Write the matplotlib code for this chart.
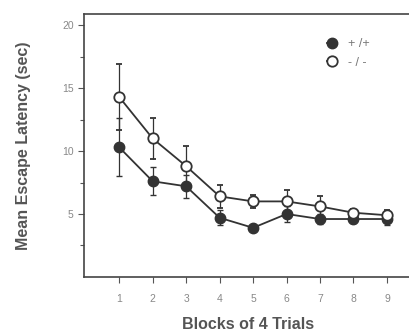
import numpy as np
import matplotlib.pyplot as plt

# data
blocks = [1, 2, 3, 4, 5, 6, 7, 8, 9]
wt_mean = [10.3, 7.6, 7.2, 4.7, 3.9, 5.0, 4.6, 4.6, 4.6]
wt_err = [2.3, 1.1, 0.9, 0.6, 0.2, 0.6, 0.4, 0.3, 0.5]
ko_mean = [14.3, 11.0, 8.8, 6.4, 6.0, 6.0, 5.6, 5.1, 4.9]
ko_err = [2.6, 1.6, 1.6, 0.9, 0.5, 0.9, 0.8, 0.3, 0.4]
labels = ['+ /+', '- / -']

plt.rcParams['font.family'] = ['Liberation Sans', 'DejaVu Sans']

fig = plt.figure(figsize=(4.1, 3.32), dpi=100)
ax = fig.add_axes([0.205, 0.166, 0.80, 0.792])

dark = '#333333'
ax.errorbar(blocks, wt_mean, yerr=wt_err, color=dark, marker='o', ms=7.5,
            mfc=dark, mec=dark, lw=1.3, capsize=2, elinewidth=0.9, label=labels[0], zorder=3)
ax.errorbar(blocks, ko_mean, yerr=ko_err, color=dark, marker='o', ms=7.5,
            mfc='white', mec=dark, mew=1.3, lw=1.3, capsize=2, elinewidth=0.9, label=labels[1], zorder=4)

ax.set_xlim(-0.05, 9.75)
ax.set_ylim(0, 20.9)
ax.set_xticks(blocks)
ax.set_yticks([5, 10, 15, 20])
ax.set_yticks([2.5, 7.5, 12.5, 17.5], minor=True)
ax.tick_params(axis='both', which='both', direction='out', colors='#555555',
               labelcolor='#888888', labelsize=7.5, width=0.8)
ax.tick_params(axis='both', which='major', length=4)
ax.tick_params(axis='y', which='minor', length=3)
ax.tick_params(axis='x', pad=8)

for s in ['left', 'bottom', 'top']:
    ax.spines[s].set_color('#444444')
    ax.spines[s].set_linewidth(1.2)
ax.spines['right'].set_visible(False)

ax.set_ylabel('Mean Escape Latency (sec)', fontsize=11.5, fontweight='bold',
              color='#555555', labelpad=22)
ax.set_xlabel('Blocks of 4 Trials', fontsize=11.5, fontweight='bold',
              color='#555555', labelpad=10)

handles, labs = ax.get_legend_handles_labels()
leg = ax.legend([h[0] for h in handles], labs, loc='upper right', bbox_to_anchor=(0.905, 0.95),
                frameon=False, fontsize=9, handlelength=0.8, handletextpad=0.9,
                labelspacing=0.5, numpoints=1)
for t in leg.get_texts():
    t.set_color('#777777')

fig.savefig('out.png', dpi=100)
